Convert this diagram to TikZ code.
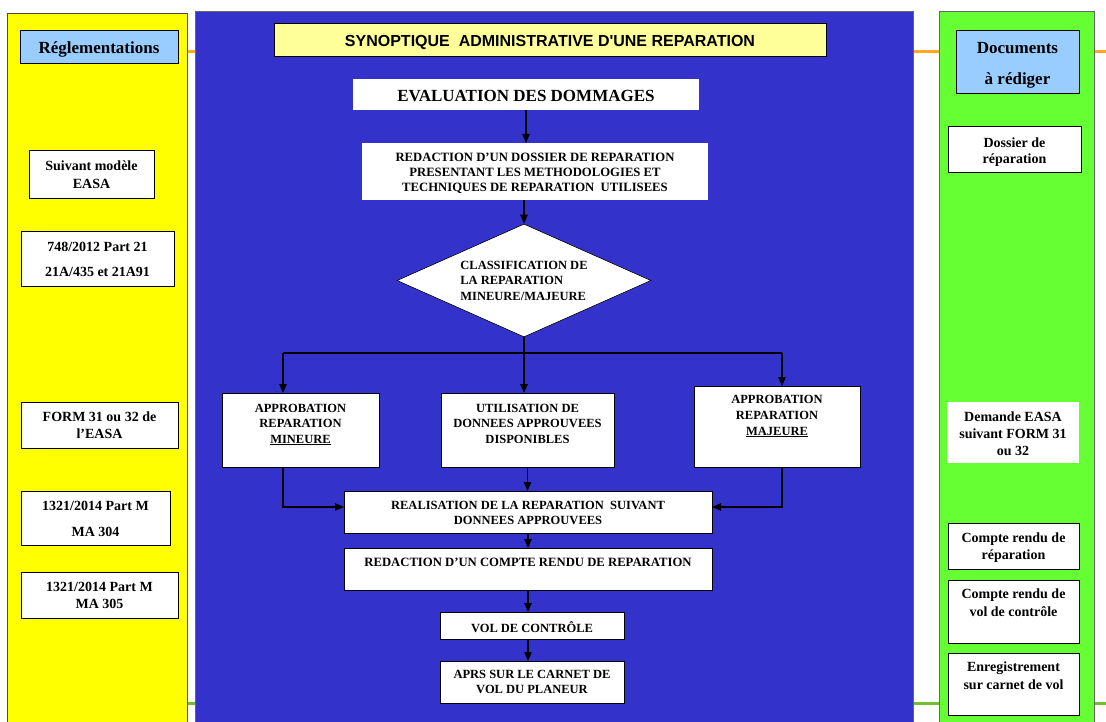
\documentclass[tikz,border=0pt]{standalone}
\usepackage{fontspec}
\setmainfont{Liberation Serif}
\newfontfamily\arialfont{Liberation Sans}
\usetikzlibrary{shapes.geometric,arrows.meta}
\definecolor{ylw}{HTML}{FFFF00}
\definecolor{blu}{HTML}{3333CC}
\definecolor{grn}{HTML}{66FF33}
\definecolor{lblu}{HTML}{99CCFF}
\definecolor{ttl}{HTML}{FFFF99}
\definecolor{orng}{HTML}{FFA820}
\definecolor{lgrn}{HTML}{70C030}
% width, height, top offset, font size, baselineskip, text
\newcommand\mbx[6]{\begin{minipage}[c][#2pt][t]{#1pt}\centering\fontsize{#4pt}{#5pt}\selectfont\bfseries\vspace*{#3pt}#6\end{minipage}}
\tikzset{
  box/.style={draw=black, line width=1pt, fill=white, inner sep=0pt, outer sep=0pt},
  nob/.style={fill=white, inner sep=0pt, outer sep=0pt},
  hdr/.style={draw=black, line width=1pt, fill=lblu, inner sep=0pt, outer sep=0pt},
  arr/.style={line width=1.1pt, -{Triangle[length=9pt,width=7.5pt]}},
  ln/.style={line width=1.1pt},
}
\begin{document}
\begin{tikzpicture}[x=1pt,y=-1pt]
\fill[white] (0,0) rectangle (1106,722);
\useasboundingbox (0,0) rectangle (1106,722);
\clip (0,0) rectangle (1106,722);
% background lines
\draw[orng, line width=3pt] (187,52) -- (1106,52);
\draw[lgrn, line width=3pt] (187,703) -- (1106,703);
% panels
\draw[fill=ylw, draw=black!70, line width=1pt] (7,14) rectangle (187,740);
\draw[fill=blu, draw=black!60, line width=1pt] (195,12) rectangle (913,740);
\draw[fill=grn, draw=black!60, line width=1pt] (939,12) rectangle (1094,740);

% left column
\node[hdr] (reg) at (99,47.5) {\mbx{158}{33}{10.2}{17}{17}{Réglementations}};
\node[box] (suiv) at (91.5,175) {\mbx{125}{48}{10.2}{14}{18}{Suivant modèle\\EASA}};
\node[box] (part21) at (97.5,259) {\mbx{153}{54}{10.2}{14}{25}{748/2012 Part 21\\21A/435 et 21A91}};
\node[box] (form) at (99.5,425) {\mbx{157}{46}{10.2}{14}{17}{FORM 31 ou 32 de\\l’EASA}};
\node[box] (ma304) at (95.5,518) {\mbx{149}{54}{10.2}{14}{26}{1321/2014 Part M\\MA 304}};
\node[box] (ma305) at (99.5,595) {\mbx{157}{46}{10.2}{14}{17}{1321/2014 Part M\\MA 305}};

% right column
\node[hdr] (doch) at (1017.5,62.5) {\mbx{123}{63}{11.2}{17}{31}{Documents\\à rédiger}};
\node[box] (dossier) at (1014.5,150) {\mbx{133}{46}{11.2}{14}{16}{Dossier de\\réparation}};
\node[nob] (demande) at (1013,432.5) {\mbx{132}{61}{10.2}{14}{17}{Demande EASA\\suivant FORM 31\\ou 32}};
\node[box] (crrep) at (1013.5,546) {\mbx{131}{46}{10.2}{14}{17}{Compte rendu de\\réparation}};
\node[box] (crvol) at (1013.5,611.5) {\mbx{131}{63}{9.2}{14}{18}{Compte rendu de\\vol de contrôle}};
\node[box] (enreg) at (1013.5,684) {\mbx{131}{62}{9.2}{14}{18}{Enregistrement\\sur carnet de vol}};

% middle column
\node[draw=black, line width=1pt, fill=ttl, inner sep=0pt] (title) at (550,40.5) {\mbx{552}{33}{11.3}{16}{16}{\arialfont SYNOPTIQUE\ \ ADMINISTRATIVE D'UNE REPARATION}};
\node[nob] (eval) at (526,94.5) {\mbx{346}{31}{11.2}{17}{17}{EVALUATION DES DOMMAGES}};
\node[nob] (redac) at (535,171.5) {\mbx{346}{57}{9.75}{12.7}{15}{REDACTION D'UN DOSSIER DE REPARATION\\PRESENTANT LES METHODOLOGIES ET\\TECHNIQUES DE REPARATION\ \ UTILISEES}};
\node[draw=black, line width=0.6pt, fill=white, shape=diamond, aspect=2.25, inner sep=0pt, minimum width=254pt, minimum height=113pt, align=left, font=\fontsize{12.5pt}{15.5pt}\selectfont\bfseries] (diam) at (524,280.5) {CLASSIFICATION DE\\LA REPARATION\\MINEURE/MAJEURE};
\node[box] (mineure) at (300.5,430) {\mbx{157}{74}{10.75}{12.5}{15.5}{APPROBATION\\REPARATION\\\underline{MINEURE}}};
\node[box] (util) at (527.5,430) {\mbx{173}{74}{10.75}{12.5}{15.5}{UTILISATION DE\\DONNEES APPROUVEES\\DISPONIBLES}};
\node[box] (majeure) at (777,426.5) {\mbx{166}{81}{8.75}{12.5}{16}{APPROBATION\\REPARATION\\\underline{MAJEURE}}};
\node[box] (realis) at (528,512) {\mbx{368}{42}{9.75}{12.5}{15}{REALISATION DE LA REPARATION\ \ SUIVANT\\DONNEES APPROUVEES}};
\node[box] (cr) at (528,569) {\mbx{368}{42}{9.75}{12.7}{15}{REDACTION D'UN COMPTE RENDU DE REPARATION}};
\node[box] (vol) at (532,625.5) {\mbx{184}{27}{9.75}{12.5}{15}{VOL DE CONTRÔLE}};
\node[box] (aprs) at (532,682) {\mbx{184}{42}{8.75}{12.5}{15}{APRS SUR LE CARNET DE\\VOL DU PLANEUR}};

% connectors
\draw[arr] (eval.south) -- (eval.south |- redac.north);
\draw[arr] (redac.south -| diam.north) -- (diam.north);
\draw[arr] (diam.south) -- (diam.south |- util.north);
\coordinate (jl) at (283,353);
\coordinate (jr) at (782,353);
\draw[ln] (jl) -- (jr);
\draw[arr] (jl) -- (jl |- mineure.north);
\draw[arr] (jr) -- (jr |- majeure.north);
\draw[arr] (jl |- mineure.south) |- ([yshift=5pt]realis.west);
\draw[arr] (jr |- majeure.south) |- ([yshift=5pt]realis.east);
\draw[arr] (util.south) -- (util.south |- realis.north);
\draw[arr] (realis.south) -- (cr.north);
\draw[arr] (cr.south) -- (cr.south |- vol.north);
\draw[arr] (vol.south -| cr.south) -- (cr.south |- aprs.north);
\end{tikzpicture}
\end{document}
